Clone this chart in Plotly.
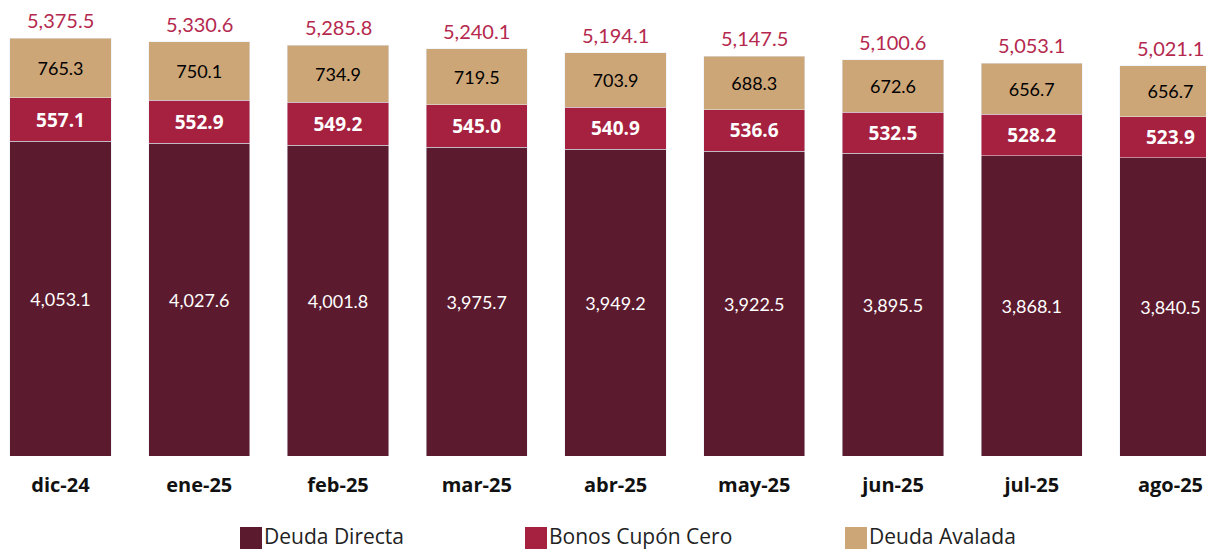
import plotly.graph_objects as go

categories = ["dic-24", "ene-25", "feb-25", "mar-25", "abr-25", "may-25", "jun-25", "jul-25", "ago-25"]
deuda_directa = [4053.1, 4027.6, 4001.8, 3975.7, 3949.2, 3922.5, 3895.5, 3868.1, 3840.5]
bonos_cupon_cero = [557.1, 552.9, 549.2, 545.0, 540.9, 536.6, 532.5, 528.2, 523.9]
deuda_avalada = [765.3, 750.1, 734.9, 719.5, 703.9, 688.3, 672.6, 656.7, 656.7]
totales = [5375.5, 5330.6, 5285.8, 5240.1, 5194.1, 5147.5, 5100.6, 5053.1, 5021.1]
series_names = ["Deuda Directa", "Bonos Cupón Cero", "Deuda Avalada"]

C_DIR = "#5C1A2E"
C_BON = "#A6213F"
C_AVA = "#CDA678"
C_TOT = "#B5294E"

W, H = 1206, 542          # page body has an 8px margin
PLOT_H = 448               # plot area height (t=0, b=94)

def fmt(v):
    return f"{v:,.1f}"

fig = go.Figure()
fig.add_trace(go.Bar(
    x=categories, y=deuda_directa, name=series_names[0], marker_color=C_DIR,
    text=[fmt(v) for v in deuda_directa], textposition="inside", insidetextanchor="middle",
    textfont=dict(color="white", size=18, family="Lato"), textangle=0,
))
fig.add_trace(go.Bar(
    x=categories, y=bonos_cupon_cero, name=series_names[1], marker_color=C_BON,
    text=[fmt(v) for v in bonos_cupon_cero], textposition="inside", insidetextanchor="middle",
    textfont=dict(color="white", size=19, family="Open Sans", weight="bold"), textangle=0,
))
fig.add_trace(go.Bar(
    x=categories, y=deuda_avalada, name=series_names[2], marker_color=C_AVA,
    text=[fmt(v) for v in deuda_avalada], textposition="inside", insidetextanchor="middle",
    textfont=dict(color="black", size=18, family="Lato"), textangle=0,
))

# totals above bars
for c, t in zip(categories, totales):
    fig.add_annotation(x=c, y=t, xref="x", yref="y", text=fmt(t), showarrow=False,
                       yanchor="bottom", yshift=4,
                       font=dict(color=C_TOT, size=20, family="Lato"))

# custom legend (large square swatches as in the reference)
legend_x = [232, 517, 837]
legend_colors = [C_DIR, C_BON, C_AVA]
for lx, col, name in zip(legend_x, legend_colors, series_names):
    fig.add_shape(type="rect", xref="paper", yref="paper",
                  x0=lx / W, x1=(lx + 22) / W,
                  y0=(PLOT_H - 541) / PLOT_H, y1=(PLOT_H - 519) / PLOT_H,
                  fillcolor=col, line=dict(width=0))
    fig.add_annotation(xref="paper", yref="paper", x=(lx + 23) / W, y=(PLOT_H - 528) / PLOT_H,
                       xanchor="left", yanchor="middle", showarrow=False, text=name,
                       borderpad=0,
                       font=dict(family="Open Sans", size=21, color="#222222"))

fig.update_layout(
    width=W, height=H,
    barmode="stack", bargap=0.27,
    plot_bgcolor="white", paper_bgcolor="white",
    margin=dict(l=0, r=0, t=0, b=94, autoexpand=False),
    showlegend=False,
    xaxis=dict(range=[-0.3784, 8.3136], showgrid=False, showline=False, zeroline=False,
               automargin=False, ticks="", ticklabelstandoff=15,
               tickfont=dict(family="Open Sans", size=20, color="#111111", weight="bold")),
    yaxis=dict(range=[0, 5767], visible=False, automargin=False),
)

fig.write_html("out.html")
